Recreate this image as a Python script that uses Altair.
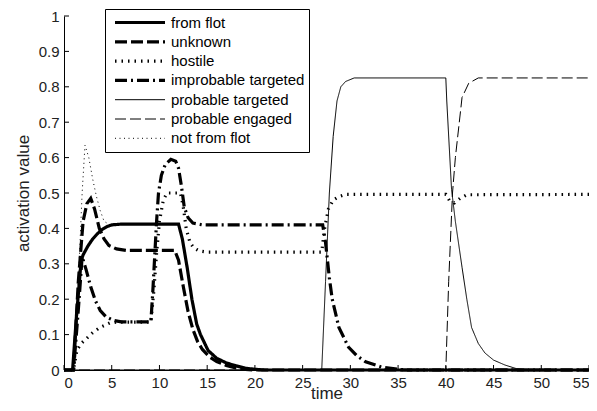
import altair as alt
import pandas as pd

series_names = ["from flot", "unknown", "hostile", "improbable targeted",
                "probable targeted", "probable engaged", "not from flot"]

t_from_flot = [0, 0.9, 1.3, 1.8, 2.0, 2.5, 3.0, 3.5, 4.0, 4.5, 5.0, 6.0, 12.0, 12.4, 12.9,
               13.4, 13.9, 14.3, 15.1, 16.0, 17.0, 18.0, 19.0, 20.0, 21.0, 55]
v_from_flot = [0, 0, 0.15, 0.31, 0.325, 0.35, 0.37, 0.385, 0.397, 0.405, 0.41, 0.412, 0.412,
               0.37, 0.29, 0.20, 0.13, 0.10, 0.055, 0.033, 0.02, 0.012, 0.005, 0.002, 0, 0]

t_unknown = [0, 1.0, 1.5, 2.0, 2.4, 2.8, 3.2, 3.7, 4.2, 4.7, 5.5, 6.5, 11.6, 12.0, 12.5, 13.0,
             13.5, 14.0, 14.5, 15.2, 16.0, 17.0, 18.0, 19.0, 20.0, 55]
v_unknown = [0, 0, 0.25, 0.42, 0.47, 0.485, 0.455, 0.4, 0.37, 0.352, 0.342, 0.338, 0.338, 0.31,
             0.235, 0.165, 0.115, 0.08, 0.058, 0.038, 0.024, 0.013, 0.006, 0.002, 0, 0]

t_hostile = [0, 1.0, 1.35, 1.8, 2.4, 3.0, 3.75, 4.8, 5.5, 9.1, 9.4, 9.7, 10.0, 10.4, 10.8, 12.2,
             12.5, 12.8, 13.2, 13.6, 14.2, 15.0, 27.0, 27.3, 27.7, 28.2, 28.8, 29.5, 40.0, 40.4,
             40.9, 41.5, 42.2, 55]
v_hostile = [0, 0, 0.056, 0.075, 0.09, 0.105, 0.12, 0.133, 0.135, 0.135, 0.22, 0.33, 0.42, 0.48,
             0.5, 0.5, 0.46, 0.40, 0.36, 0.345, 0.336, 0.333, 0.333, 0.40, 0.455, 0.48, 0.49,
             0.496, 0.496, 0.478, 0.472, 0.485, 0.495, 0.496]

t_improbable = [0, 1.0, 1.5, 1.9, 2.3, 2.8, 3.3, 3.8, 4.4, 5.2, 6.0, 9.1, 9.3, 9.5, 9.7, 9.9,
                10.2, 10.6, 11.2, 11.7, 12.0, 12.3, 12.6, 13.0, 13.5, 14.5, 27.1, 27.4, 27.8,
                28.1, 28.8, 29.8, 30.7, 31.6, 33.3, 35.0, 36.0, 55]
v_improbable = [0, 0, 0.17, 0.32, 0.285, 0.235, 0.195, 0.168, 0.15, 0.14, 0.136, 0.136, 0.22,
                0.32, 0.42, 0.5, 0.55, 0.58, 0.595, 0.59, 0.57, 0.52, 0.46, 0.43, 0.415, 0.41,
                0.41, 0.36, 0.26, 0.2, 0.12, 0.065, 0.04, 0.023, 0.008, 0.002, 0, 0]

t_prob_targeted = [0, 27.0, 27.4, 27.8, 28.2, 28.6, 29.0, 29.5, 30.4, 40.0, 40.1, 40.6, 41.0,
                   41.7, 42.2, 42.7, 43.4, 44.1, 45.0, 46.2, 47.5, 48.5, 55]
v_prob_targeted = [0, 0, 0.25, 0.5, 0.66, 0.76, 0.8, 0.815, 0.825, 0.825, 0.76, 0.51, 0.42,
                   0.29, 0.2, 0.12, 0.075, 0.048, 0.028, 0.014, 0.003, 0, 0]

t_prob_engaged = [0, 40.0, 40.3, 40.7, 41.0, 41.7, 42.4, 43.4, 55]
v_prob_engaged = [0, 0, 0.25, 0.5, 0.6, 0.77, 0.81, 0.825, 0.825]

t_not_from_flot = [0, 1.0, 1.5, 1.9, 2.2, 2.6, 3.0, 3.4, 3.8, 4.2, 4.8, 6.0, 12.0, 12.4, 12.9,
                   13.4, 13.9, 14.3, 15.1, 16.0, 17.0, 18.0, 19.0, 20.0, 21.0, 55]
v_not_from_flot = [0, 0, 0.25, 0.5, 0.635, 0.6, 0.54, 0.49, 0.45, 0.42, 0.41, 0.412, 0.412,
                   0.37, 0.29, 0.20, 0.13, 0.10, 0.055, 0.033, 0.02, 0.012, 0.005, 0.002, 0, 0]

x_ticks = [0, 5, 10, 15, 20, 25, 30, 35, 40, 45, 50, 55]
y_ticks = [0, 0.1, 0.2, 0.3, 0.4, 0.5, 0.6, 0.7, 0.8, 0.9, 1]

all_series = [
    (series_names[0], t_from_flot, v_from_flot),
    (series_names[1], t_unknown, v_unknown),
    (series_names[2], t_hostile, v_hostile),
    (series_names[3], t_improbable, v_improbable),
    (series_names[4], t_prob_targeted, v_prob_targeted),
    (series_names[5], t_prob_engaged, v_prob_engaged),
    (series_names[6], t_not_from_flot, v_not_from_flot),
]
rows = []
for k, (name, ts, vs) in enumerate(all_series):
    for i, (t, v) in enumerate(zip(ts, vs)):
        rows.append({"series": name, "t": t, "v": v, "i": i, "k": k})
df = pd.DataFrame(rows)

dashes = [[1, 0], [12, 4], [1.5, 5], [12, 4, 2, 4], [1, 0], [11, 4], [1, 3.5]]
widths = [3.2, 3.2, 3.2, 3.2, 1, 1, 1]

FONT = "Liberation Sans"
xs = alt.Scale(domain=[0, 55], nice=False, zero=False)
ys = alt.Scale(domain=[0, 1], nice=False)
x_axis = alt.Axis(values=x_ticks, title="time", ticks=False, grid=False, labelPadding=5,
                  titleY=28, titleBaseline="alphabetic")
y_axis = alt.Axis(values=y_ticks, format="~g", title="activation value", ticks=False,
                  grid=False, labelPadding=5, titleX=-41, titleBaseline="middle")

x_enc = alt.X("t:Q", scale=xs, axis=x_axis)
y_enc = alt.Y("v:Q", scale=ys, axis=y_axis)

legend = alt.Legend(title=None, orient="none", legendX=41, legendY=-7, symbolType="stroke",
                    symbolSize=2500, clipHeight=19, rowPadding=0.3, padding=4,
                    symbolOffset=4, labelOffset=4, strokeColor="black", fillColor="white",
                    labelFontSize=15, labelFont=FONT, labelColor="black",
                    symbolStrokeColor="black", symbolFillColor="transparent")

lines = alt.Chart(df).mark_line(color="black", strokeCap="butt", strokeJoin="miter").encode(
    x=x_enc,
    y=y_enc,
    strokeDash=alt.StrokeDash("series:N", scale=alt.Scale(domain=series_names, range=dashes),
                              legend=legend),
    strokeWidth=alt.StrokeWidth("series:N",
                                scale=alt.Scale(type="ordinal", domain=series_names,
                                                range=widths),
                                legend=legend),
    order="i:Q",
)

xtick_df = pd.DataFrame({"t": x_ticks})
ytick_df = pd.DataFrame({"v": y_ticks})
xt = alt.Chart(xtick_df).mark_rule(color="black", strokeWidth=1).encode(
    x=x_enc, y=alt.value(354), y2=alt.value(349))
yt = alt.Chart(ytick_df).mark_rule(color="black", strokeWidth=1).encode(
    y=y_enc, x=alt.value(0), x2=alt.value(5))

chart = alt.layer(lines, xt, yt).properties(
    width=525, height=354,
    autosize=alt.AutoSizeParams(type="none"),
    padding={"left": 56, "top": 8, "right": 0, "bottom": 32},
).configure_view(stroke=None).configure_axis(
    labelFont=FONT, labelFontSize=15, labelColor="#222", domainColor="black",
    domainWidth=1, titleFont=FONT, titleFontSize=17, titleFontWeight="normal",
    titleColor="#222",
)

chart.save("out.html", embed_options={"renderer": "svg", "actions": False})
